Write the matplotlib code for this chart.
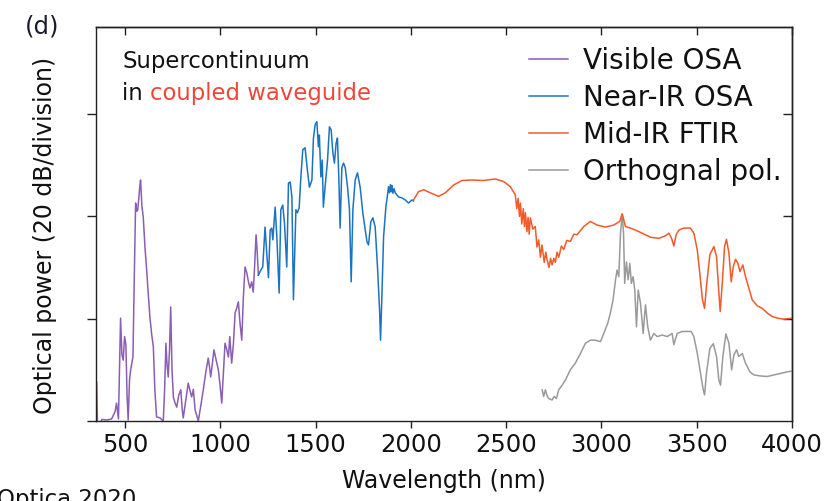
import matplotlib
matplotlib.use("Agg")
import matplotlib.pyplot as plt

plt.rcParams['font.family'] = ['DejaVu Sans']

# ---------------- data (wavelength nm, relative power dB) ----------------
vis_wl = [352, 356, 380, 405, 430, 448, 456, 466, 477, 484, 491, 498, 505, 511, 517, 524,
          530, 542, 549, 556, 562, 567, 572, 577, 582, 589, 596, 605, 614, 622, 631,
          640, 649, 657, 666, 684, 701, 708, 715, 721, 727, 734, 740, 747, 754, 763,
          772, 782, 793, 800, 806, 819, 832, 841, 850, 859, 868, 877, 885, 898, 911,
          924, 937, 944, 950, 958, 967, 978, 990, 999, 1008, 1016, 1025, 1034, 1043,
          1050, 1060, 1069, 1078, 1086, 1095, 1104, 1113, 1121, 1130, 1139, 1148, 1156,
          1165, 1173, 1180, 1188, 1194, 1200]
vis_db = [7.6, -1.0, 0.3, 0.2, 0.4, 1.8, 3.5, 0.4, 20.1, 13.0, 11.9, 16.5, 14.9, 5.0, 0.2, 8.0,
          10.0, 12.5, 28.0, 42.6, 41.0, 41.2, 43.2, 45.5, 47.1, 42.0, 39.9, 34.0, 29.5, 25.0, 20.3,
          17.0, 14.5, 6.0, 0.8, 0.6, 0.0, 6.0, 15.2, 11.0, 8.6, 14.0, 22.3, 10.0, 4.7, 3.5,
          2.7, 5.0, 6.1, 2.5, 0.6, 4.0, 7.4, 6.0, 4.7, 6.2, 2.2, 1.0, 0.0, 3.0, 6.1,
          9.5, 12.3, 10.5, 8.6, 11.0, 13.9, 12.0, 10.0, 7.0, 3.5, 9.0, 15.2, 14.0, 12.5,
          16.5, 11.3, 15.0, 21.1, 22.0, 23.3, 19.0, 15.8, 24.0, 30.1, 29.0, 27.2, 26.0,
          27.2, 25.2, 30.0, 36.4, 33.0, 28.5]

nir_wl = [1200, 1213, 1223, 1235, 1244, 1253, 1262, 1270, 1276, 1288, 1297, 1309, 1318, 1328,
          1337, 1349, 1358, 1367, 1376, 1384, 1397, 1405, 1414, 1423, 1433, 1445, 1457, 1468,
          1481, 1489, 1498, 1507, 1515, 1520, 1528, 1535, 1541, 1550, 1563, 1573, 1582, 1591,
          1599, 1608, 1615, 1622, 1629, 1638, 1647, 1656, 1668, 1678, 1687, 1696, 1708, 1720,
          1734, 1748, 1761, 1770, 1778, 1790, 1801, 1813, 1825, 1836, 1841, 1848, 1857, 1869,
          1877, 1883, 1888, 1893, 1898, 1901, 1906, 1912, 1918, 1935, 1953, 1971, 1988, 2006,
          2014]
nir_db = [28.5, 29.5, 30.1, 37.9, 32.8, 28.0, 37.3, 37.7, 35.4, 41.8, 36.0, 25.0, 41.3, 42.2,
          38.7, 30.1, 46.5, 46.7, 43.8, 23.7, 41.3, 40.7, 41.6, 47.7, 53.0, 53.4, 49.1, 45.7,
          47.1, 55.3, 57.9, 58.5, 53.6, 55.9, 47.7, 51.0, 41.8, 45.7, 51.0, 57.5, 56.9, 52.4,
          50.4, 54.3, 55.3, 47.7, 37.7, 49.5, 50.4, 49.5, 45.7, 41.3, 27.2, 41.3, 47.1, 48.5,
          45.7, 40.7, 37.3, 35.0, 34.4, 38.9, 39.7, 37.9, 30.1, 21.7, 15.8, 24.2, 36.0, 41.8,
          44.0, 45.8, 44.6, 46.2, 44.8, 46.0, 44.5, 45.4, 44.6, 43.8, 43.6, 43.2, 42.6, 43.2,
          43.0]

mir_wl = [2014, 2040, 2067, 2102, 2146, 2181, 2224, 2268, 2321, 2382, 2443, 2487, 2522, 2548,
          2556, 2563, 2570, 2575, 2582, 2590, 2596, 2601, 2609, 2615, 2621, 2627, 2640, 2653,
          2662, 2671, 2680, 2688, 2700, 2708, 2715, 2725, 2733, 2741, 2750, 2758, 2767, 2776,
          2790, 2802, 2818, 2837, 2855, 2872, 2907, 2942, 2977, 3021, 3065, 3096, 3109, 3126,
          3152, 3179, 3214, 3258, 3301, 3336, 3354, 3368, 3380, 3392, 3406, 3432, 3467, 3485,
          3503, 3516, 3530, 3541, 3551, 3569, 3590, 3604, 3614, 3623, 3634, 3646, 3656, 3669,
          3681, 3692, 3704, 3716, 3727, 3742, 3756, 3774, 3791, 3818, 3844, 3870, 3897, 3923,
          3957, 4001]
mir_db = [43.2, 44.8, 45.2, 44.6, 43.9, 44.6, 46.1, 47.0, 47.1, 47.0, 47.3, 46.8, 45.8, 44.2,
          41.5, 43.5, 40.0, 42.6, 38.5, 41.5, 38.0, 40.7, 37.0, 39.8, 36.5, 39.7, 37.5, 38.0,
          34.0, 35.4, 32.0, 34.4, 31.0, 33.0, 31.5, 30.0, 31.8, 30.5, 31.8, 31.0, 33.0, 32.0,
          34.2, 33.5, 35.3, 35.1, 36.5, 36.4, 38.0, 39.0, 38.3, 37.9, 38.3, 39.0, 40.5, 38.0,
          37.7, 37.3, 36.7, 35.9, 35.7, 36.2, 36.7, 35.7, 34.2, 36.4, 37.3, 37.7, 37.7, 36.7,
          33.4, 28.9, 23.7, 22.0, 26.3, 32.5, 34.1, 32.1, 26.3, 21.4, 26.9, 34.1, 35.5, 32.8,
          27.2, 30.2, 31.6, 30.8, 29.2, 30.5, 28.2, 25.9, 23.7, 22.5, 22.0, 21.1, 20.4, 20.1,
          19.9, 20.1]

orth_wl = [2689, 2697, 2706, 2715, 2723, 2741, 2752, 2764, 2776, 2794, 2811, 2837, 2863, 2890,
           2916, 2942, 2968, 2995, 3012, 3033, 3047, 3061, 3074, 3082, 3091, 3100, 3109, 3116,
           3122, 3131, 3140, 3149, 3157, 3166, 3175, 3184, 3193, 3205, 3219, 3231, 3243, 3257,
           3275, 3293, 3319, 3345, 3371, 3380, 3397, 3424, 3450, 3471, 3485, 3503, 3520, 3534,
           3541, 3551, 3569, 3587, 3604, 3616, 3625, 3637, 3653, 3669, 3683, 3695, 3709, 3721,
           3739, 3756, 3779, 3800, 3835, 3870, 3905, 3940, 3975, 4007]
orth_db = [6.1, 4.8, 6.1, 4.9, 4.4, 4.1, 4.8, 4.4, 6.1, 7.0, 8.0, 10.0, 11.3, 13.2,
           15.2, 15.8, 15.8, 15.5, 17.1, 19.1, 21.1, 23.7, 27.6, 29.5, 28.2, 36.7, 40.3, 36.7,
           26.9, 31.1, 27.6, 30.8, 26.9, 28.2, 25.6, 18.4, 25.6, 23.0, 17.1, 22.7, 18.4, 15.8,
           17.1, 16.5, 16.8, 16.5, 17.1, 14.9, 17.1, 17.5, 17.5, 17.5, 16.5, 13.2, 9.3, 6.1,
           5.1, 9.3, 14.2, 15.1, 12.6, 8.0, 7.0, 12.6, 17.0, 15.2, 10.0, 12.9, 13.9, 12.6,
           13.2, 11.3, 9.6, 9.0, 8.8, 8.7, 9.0, 9.3, 9.6, 9.8]

series_labels = ['Visible OSA', 'Near-IR OSA', 'Mid-IR FTIR', 'Orthognal pol.']
x_ticks = [500, 1000, 1500, 2000, 2500, 3000, 3500, 4000]
y_ticks = [0, 20, 40, 60]

# ---------------- figure ----------------
fig = plt.figure(figsize=(8.36, 5.01), dpi=100)
ax = fig.add_axes([0.1148, 0.1597, 0.8326, 0.7864])

c_vis, c_nir, c_mir, c_orth = '#8b5db3', '#1b74c2', '#f25a28', '#9a9a9a'
lw = 1.1
l_orth, = ax.plot(orth_wl, orth_db, color=c_orth, lw=lw)
l_vis, = ax.plot(vis_wl, vis_db, color=c_vis, lw=lw)
l_nir, = ax.plot(nir_wl, nir_db, color=c_nir, lw=lw)
l_mir, = ax.plot(mir_wl, mir_db, color=c_mir, lw=lw)

ax.set_xlim(348, 4000)
ax.set_ylim(0, 77)

for s in ax.spines.values():
    s.set_linewidth(1.0)
    s.set_color('#222222')

ax.set_xticks(x_ticks)
ax.set_yticks(y_ticks)
ax.set_yticklabels([])
ax.tick_params(axis='x', direction='out', length=5.3, width=1.0, labelsize=17.5,
               pad=3.5, colors='#222222', labelcolor='#111111')
ax.tick_params(axis='y', direction='out', length=6.7, width=1.0, colors='#222222')

secx = ax.secondary_xaxis('top')
secx.set_xticks(x_ticks)
secx.tick_params(direction='in', length=5.5, width=1.0, labeltop=False, colors='#222222')
secx.spines['top'].set_linewidth(1.0)
secy = ax.secondary_yaxis('right')
secy.set_yticks(y_ticks[1:])
secy.tick_params(direction='in', length=6.5, width=1.0, labelright=False, colors='#222222')
secy.spines['right'].set_linewidth(1.0)

ax.set_xlabel('Wavelength (nm)', fontsize=17, color='#111111')
ax.xaxis.set_label_coords(0.5, -0.122)
ax.set_ylabel('Optical power (20 dB/division)', fontsize=17, color='#111111')
ax.yaxis.set_label_coords(-0.056, 0.472)

leg = ax.legend([l_vis, l_nir, l_mir, l_orth], series_labels, loc='upper left',
                bbox_to_anchor=(0.622, 0.950), frameon=False, fontsize=20,
                borderpad=0, borderaxespad=0, handlelength=1.4, handletextpad=0.55,
                labelspacing=0.33)
for t in leg.get_texts():
    t.set_color('#111111')

ax.text(0.0374, 0.896, 'Supercontinuum', transform=ax.transAxes, fontsize=16.4,
        va='baseline', ha='left', color='#111111')
t_in = ax.text(0.0374, 0.815, 'in ', transform=ax.transAxes, fontsize=16.4,
               va='baseline', ha='left', color='#111111')
ax.annotate('coupled waveguide', xy=(1, 0), xycoords=t_in, fontsize=16.4,
            va='bottom', ha='left', color='#f0463a')

fig.text(0.030, 0.934, '(d)', fontsize=17.5, color='#1a1a30', va='baseline', ha='left')
fig.text(-0.003, -0.010, 'Optica 2020', fontsize=16.5, color='#111111',
         va='baseline', ha='left')

fig.savefig('out.png', dpi=100)
